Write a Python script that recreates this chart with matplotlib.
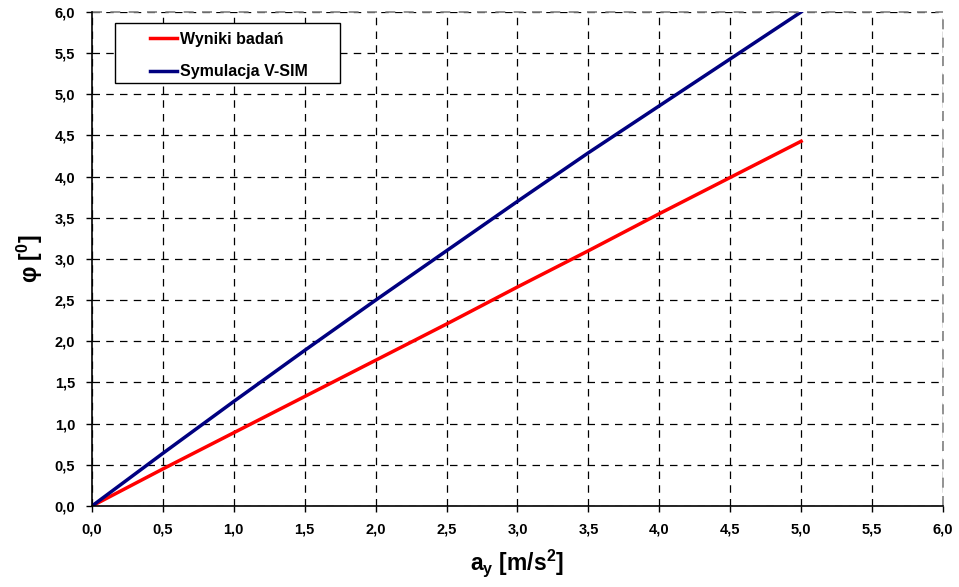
import matplotlib
matplotlib.use("Agg")
import matplotlib.pyplot as plt
from matplotlib.patches import Rectangle
import numpy as np

plt.rcParams['font.family'] = ['Liberation Sans', 'DejaVu Sans']
plt.rcParams['font.weight'] = 'bold'
plt.rcParams['mathtext.fontset'] = 'custom'
plt.rcParams['mathtext.rm'] = 'Liberation Sans:bold'
plt.rcParams['mathtext.it'] = 'Liberation Sans:bold'
plt.rcParams['mathtext.bf'] = 'Liberation Sans:bold'

x_vals = [0.0, 0.5, 1.0, 1.5, 2.0, 2.5, 3.0, 3.5, 4.0, 4.5, 5.0]
wyniki = [0.0, 0.45, 0.89, 1.33, 1.77, 2.21, 2.66, 3.10, 3.55, 3.99, 4.43]
symulacja = [0.0, 0.64, 1.27, 1.89, 2.50, 3.10, 3.70, 4.29, 4.86, 5.43, 6.0]
ticks = [0.0, 0.5, 1.0, 1.5, 2.0, 2.5, 3.0, 3.5, 4.0, 4.5, 5.0, 5.5, 6.0]
labels = ['Wyniki badań', 'Symulacja V-SIM']

fig = plt.figure(figsize=(9.59, 5.87), dpi=100)
ax = fig.add_axes([0.0959, 0.138, 0.8874, 0.8416])

ax.plot(x_vals, wyniki, color='#ff0000', lw=2.5, label=labels[0])
ax.plot(x_vals, symulacja, color='#000080', lw=2.5, label=labels[1])

ax.set_xlim(0, 6)
ax.set_ylim(0, 6)
ax.set_xticks(ticks)
ax.set_yticks(ticks)
fmt = [f"{t:.1f}".replace('.', ',') for t in ticks]
ax.set_xticklabels(fmt, fontsize=10.5, fontweight='bold')
ax.set_yticklabels(fmt, fontsize=10.5, fontweight='bold')
ax.tick_params(direction='out', length=4, width=1, pad=8)

ax.grid(True, color='black', linestyle=(0, (6, 5)), linewidth=0.9)
ax.axhline(6.0, color='#808080', linestyle=(0, (6, 5)), lw=1.2, clip_on=False)
ax.axvline(6.0, color='#808080', linestyle=(0, (6, 5)), lw=1.2, clip_on=False)
ax.spines['top'].set_visible(False)
ax.spines['right'].set_visible(False)
ax.spines['left'].set_linewidth(1.2)
ax.spines['bottom'].set_linewidth(1.2)

ax.set_xlabel(r'a$_{\rm y}$ [m/s$^{2}$]', fontsize=16.5, fontweight='bold', labelpad=8)
ax.set_ylabel(r'φ [$^{0}$]', fontsize=16.5, fontweight='bold', labelpad=7)

# legend frame
ax.add_patch(Rectangle((0.027, 0.8563), 0.2644, 0.1214, transform=ax.transAxes,
                       facecolor='white', edgecolor='black', lw=1.0, zorder=4))
leg = ax.legend(loc='upper left', bbox_to_anchor=(0.0682, 0.960), fontsize=11.5,
                frameon=False, handlelength=1.7, handletextpad=0.2, borderpad=0,
                labelspacing=1.1, borderaxespad=0)
leg.set_zorder(5)
for t in leg.get_texts():
    t.set_fontweight('bold')

fig.savefig('out.png', dpi=100)
